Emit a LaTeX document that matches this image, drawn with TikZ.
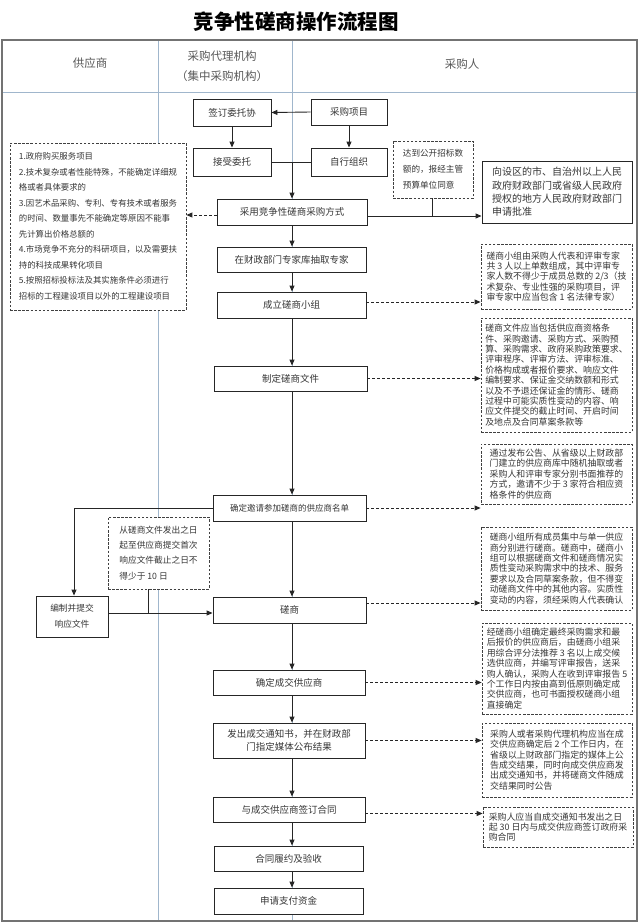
\documentclass[tikz,border=0pt]{standalone}
\usepackage{fontspec}
\setmainfont{Noto Sans CJK SC}
\usetikzlibrary{arrows.meta}
\definecolor{lanec}{RGB}{160,182,204}
\definecolor{txt}{RGB}{55,55,55}
\tikzset{
  box/.style={draw=black!85, line width=0.9pt, fill=white, inner sep=0pt, text=txt, align=center, font=\fontsize{9.5}{12}\selectfont},
  note/.style={draw=black!75, dash pattern=on 2.5pt off 1.6pt, line width=0.8pt, fill=white, inner sep=0pt, text=txt, align=left},
  arr/.style={-{Triangle[length=6pt,width=5pt]}, line width=0.9pt, draw=black!85},
  darr/.style={arr, dash pattern=on 3pt off 2pt},
  conn/.style={line width=0.9pt, draw=black!85},
  lane/.style={draw=lanec, line width=0.8pt},
  hdr/.style={text=black!65, align=center, font=\fontsize{11.5}{20}\selectfont},
  rnote/.style={note, minimum width=151pt, font=\fontsize{8.9}{10.4}\selectfont}
}
\begin{document}
\begin{tikzpicture}[x=1pt,y=-1pt]
\useasboundingbox (0,0) rectangle (640,924);
\fill[white] (0,0) rectangle (640,924);
% title
\node[font=\fontsize{20.5}{24}\selectfont\bfseries, text=black] (title) at (296,22) {竞争性磋商操作流程图};
% lanes
\draw[lane] (158,40) -- (158,921);
\draw[lane] (292,40) -- (292,921);
\draw[lane] (2,92) -- (637,92);
\draw[draw=black!55, line width=1.4pt] (2,40) rectangle (637,921);
\node[hdr] (h1) at (90,63) {供应商};
\node[hdr] (h2) at (222,66) {采购代理机构\\（集中采购机构）};
\node[hdr] (h3) at (462,64) {采购人};
% main boxes
\node[box, minimum width=78pt, minimum height=27pt] (sign) at (232,112.5) {签订委托协};
\node[box, minimum width=76pt, minimum height=26pt] (proj) at (349,112) {采购项目};
\node[box, minimum width=78pt, minimum height=28pt] (accept) at (232,162) {接受委托};
\node[box, minimum width=76pt, minimum height=28pt] (self) at (349,162) {自行组织};
\node[box, minimum width=150pt, minimum height=26pt] (adopt) at (292,212) {采用竞争性磋商采购方式};
\node[box, minimum width=149pt, minimum height=25pt] (expert) at (291.5,259.5) {在财政部门专家库抽取专家};
\node[box, minimum width=149pt, minimum height=26pt] (group) at (291.5,305) {成立磋商小组};
\node[box, minimum width=153pt, minimum height=25pt] (doc) at (290.5,378.5) {制定磋商文件};
\node[box, minimum width=153pt, minimum height=26pt, font=\fontsize{8.5}{11}\selectfont] (list) at (289.5,508) {确定邀请参加磋商的供应商名单};
\node[box, minimum width=153pt, minimum height=26pt] (cs) at (289.5,610) {磋商};
\node[box, minimum width=152pt, minimum height=25pt] (deal) at (289,682.5) {确定成交供应商};
\node[box, minimum width=152pt, minimum height=35pt, font=\fontsize{9.5}{13.5}\selectfont] (notice) at (289,740.5) {发出成交通知书，并在财政部\\门指定媒体公布结果};
\node[box, minimum width=152pt, minimum height=25pt] (sign2) at (289,809.5) {与成交供应商签订合同};
\node[box, minimum width=149pt, minimum height=25pt] (perform) at (288.5,858.5) {合同履约及验收};
\node[box, minimum width=149pt, minimum height=26pt] (pay) at (288.5,901) {申请支付资金};
\node[box, minimum width=72pt, minimum height=41pt, font=\fontsize{8.7}{16}\selectfont] (submit) at (72,616.5) {编制并提交\\响应文件};
\node[box, minimum width=150pt, minimum height=62pt, align=left, font=\fontsize{10}{13.3}\selectfont] (apply) at (557,192) {向设区的市、自治州以上人民\\政府财政部门或省级人民政府\\授权的地方人民政府财政部门\\申请批准};
% notes
\node[note, minimum width=176pt, minimum height=167pt, font=\fontsize{8.4}{15.5}\selectfont] (leftnote) at (98,226.5) {1.政府购买服务项目\\2.技术复杂或者性能特殊，不能确定详细规\\格或者具体要求的\\3.因艺术品采购、专利、专有技术或者服务\\的时间、数量事先不能确定等原因不能事\\先计算出价格总额的\\4.市场竞争不充分的科研项目，以及需要扶\\持的科技成果转化项目\\5.按照招标投标法及其实施条件必须进行\\招标的工程建设项目以外的工程建设项目};
\node[note, minimum width=80pt, minimum height=57pt, font=\fontsize{8.6}{16}\selectfont] (approval) at (433,169.5) {达到公开招标数\\额的，报经主管\\预算单位同意};
\node[note, minimum width=101pt, minimum height=72pt, font=\fontsize{8.7}{15.3}\selectfont] (tnote) at (158.5,553) {从磋商文件发出之日\\起至供应商提交首次\\响应文件截止之日不\\得少于 10 日};
\node[rnote, minimum height=65pt] (nA) at (556.5,276.5) {磋商小组由采购人代表和评审专家\\共 3 人以上单数组成，其中评审专\\家人数不得少于成员总数的 2/3（技\\术复杂、专业性强的采购项目，评\\审专家中应当包含 1 名法律专家）};
\node[rnote, minimum height=114pt] (nB) at (556.5,375) {磋商文件应当包括供应商资格条\\件、采购邀请、采购方式、采购预\\算、采购需求、政府采购政策要求、\\评审程序、评审方法、评审标准、\\价格构成或者报价要求、响应文件\\编制要求、保证金交纳数额和形式\\以及不予退还保证金的情形、磋商\\过程中可能实质性变动的内容、响\\应文件提交的截止时间、开启时间\\及地点及合同草案条款等};
\node[rnote, minimum height=60pt] (nC) at (556.5,474) {通过发布公告、从省级以上财政部\\门建立的供应商库中随机抽取或者\\采购人和评审专家分别书面推荐的\\方式，邀请不少于 3 家符合相应资\\格条件的供应商};
\node[rnote, minimum height=83pt] (nD) at (556.5,568.5) {磋商小组所有成员集中与单一供应\\商分别进行磋商。磋商中，磋商小\\组可以根据磋商文件和磋商情况实\\质性变动采购需求中的技术、服务\\要求以及合同草案条款，但不得变\\动磋商文件中的其他内容。实质性\\变动的内容，须经采购人代表确认};
\node[rnote, minimum width=150pt, minimum height=91pt] (nE) at (557,668.5) {经磋商小组确定最终采购需求和最\\后报价的供应商后，由磋商小组采\\用综合评分法推荐 3 名以上成交候\\选供应商，并编写评审报告，送采\\购人确认，采购人在收到评审报告 5\\个工作日内按由高到低原则确定成\\交供应商，也可书面授权磋商小组\\直接确定};
\node[rnote, minimum width=150pt, minimum height=74pt] (nF) at (557,760) {采购人或者采购代理机构应当在成\\交供应商确定后 2 个工作日内，在\\省级以上财政部门指定的媒体上公\\告成交结果，同时向成交供应商发\\出成交通知书，并将磋商文件随成\\交结果同时公告};
\node[rnote, minimum width=150pt, minimum height=40pt] (nG) at (558,827) {采购人应当自成交通知书发出之日\\起 30 日内与成交供应商签订政府采\\购合同};
% helper coordinates
\coordinate (fx) at (292,0);
\coordinate (ay) at ([yshift=-4pt]adopt.east);
\coordinate (ly) at ([yshift=-3pt]adopt.west);
\coordinate (grp) at ([yshift=3pt]group.east);
\coordinate (csr) at ([yshift=7pt]cs.east);
\coordinate (csj) at ([yshift=-3pt]cs.west);
\coordinate (sbj) at ([yshift=3.5pt]submit.east);
\coordinate (s2r) at ([yshift=-4pt]sign2.east);
\coordinate (tj) at ([xshift=-10.5pt]tnote.south);
\coordinate (apj) at ([xshift=-1pt]approval.south);
\coordinate (lsub) at ([xshift=2pt]submit.north);
% top flow
\draw[arr] (proj.west) -- (sign.east);
\draw[arr] (sign.south) -- (sign.south |- accept.north);
\draw[arr] (proj.south) -- (proj.south |- self.north);
\draw[conn] (accept.east) -- (self.west);
\draw[arr] (fx |- accept.east) -- (fx |- adopt.north);
% adopt branches
\draw[arr] (ay) -- (ay -| apply.west);
\draw[conn] (apj) -- (apj |- ay);
\draw[darr] (ly) -- (ly -| leftnote.east);
% main flow
\draw[arr] (fx |- adopt.south) -- (fx |- expert.north);
\draw[arr] (fx |- expert.south) -- (fx |- group.north);
\draw[arr] (fx |- group.south) -- (fx |- doc.north);
\draw[arr] (fx |- doc.south) -- (fx |- list.north);
\draw[arr] (fx |- list.south) -- (fx |- cs.north);
\draw[arr] (fx |- cs.south) -- (fx |- deal.north);
\draw[arr] (fx |- deal.south) -- (fx |- notice.north);
\draw[arr] (fx |- notice.south) -- (fx |- sign2.north);
\draw[arr] (fx |- sign2.south) -- (fx |- perform.north);
\draw[arr] (fx |- perform.south) -- (fx |- pay.north);
% supplier loop
\draw[arr] (list.west) -| (lsub);
\draw[arr] (sbj) -- (sbj -| cs.west);
\draw[conn] (tj) -- (tj |- sbj);
% dashed notes
\draw[darr] (grp) -- (grp -| nA.west);
\draw[darr] (doc.east) -- (doc.east -| nB.west);
\draw[darr] (list.east) -- (list.east -| nC.west);
\draw[darr] (csr) -- (csr -| nD.west);
\draw[darr] (deal.east) -- (deal.east -| nE.west);
\draw[darr] (notice.east) -- (notice.east -| nF.west);
\draw[darr] (s2r) -- (s2r -| nG.west);
\end{tikzpicture}
\end{document}
